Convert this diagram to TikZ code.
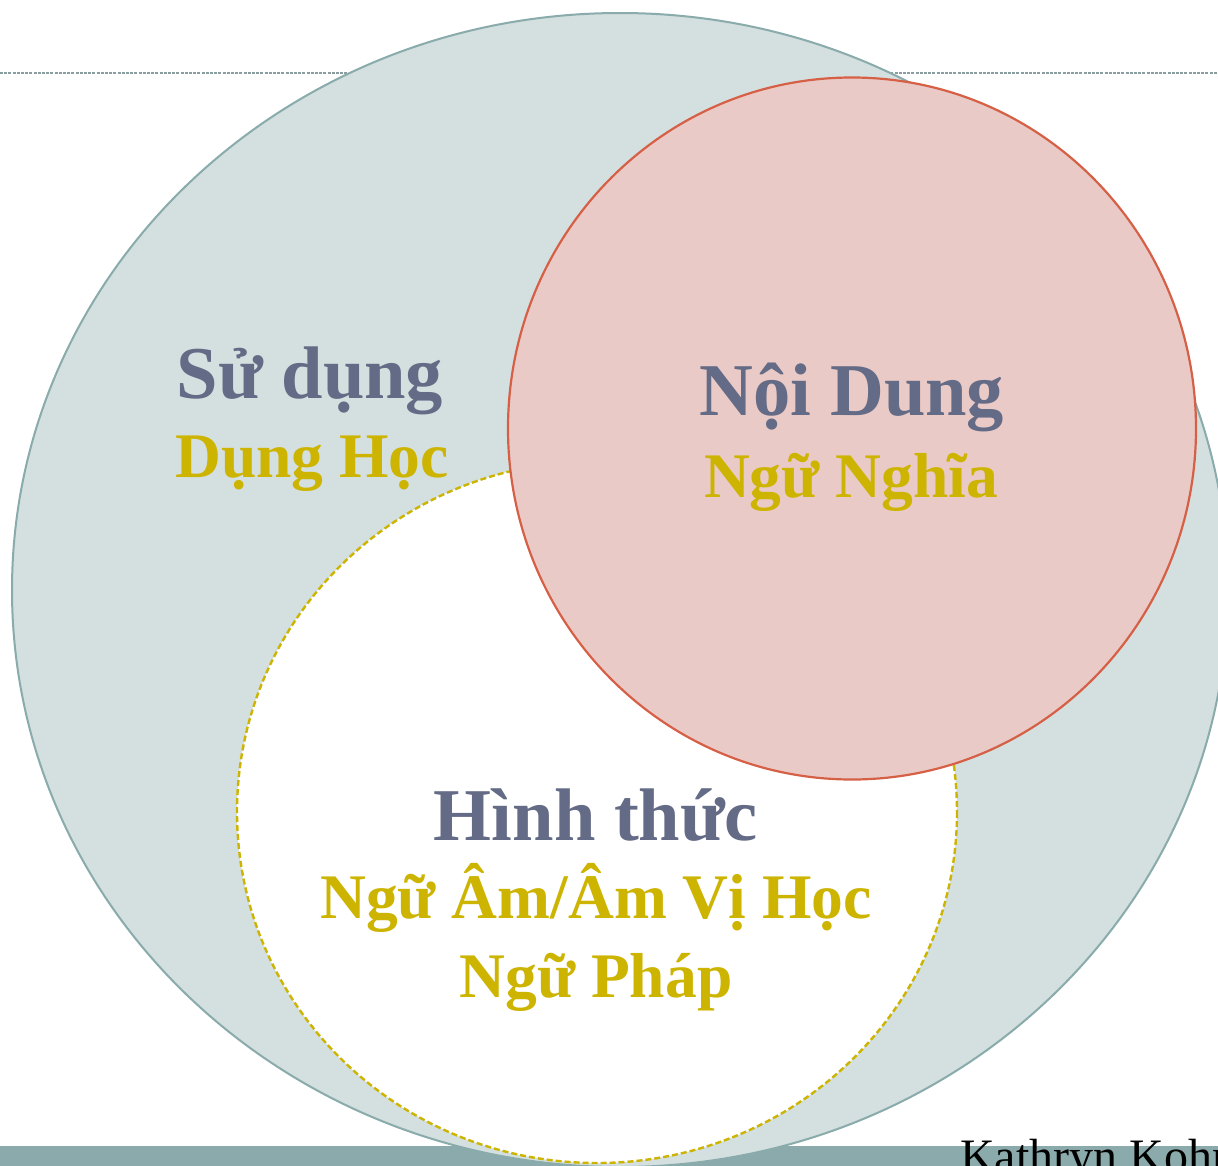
\documentclass[tikz,border=0pt]{standalone}
\usepackage{fontspec}
\setmainfont{Liberation Serif}
\definecolor{ellfill}{HTML}{D4DFDF}
\definecolor{ellline}{HTML}{8AABAB}
\definecolor{pinkfill}{HTML}{EACAC6}
\definecolor{pinkline}{HTML}{D66046}
\definecolor{goldc}{HTML}{CDB400}
\definecolor{slatec}{HTML}{646B86}
\definecolor{barc}{HTML}{8BAAAB}
\definecolor{rulec}{HTML}{8A9E9F}
\tikzset{
  bigtxt/.style={anchor=base, text=slatec, font=\bfseries\fontsize{74.5}{82}\selectfont, inner sep=0pt},
  subtxt/.style={anchor=base, text=goldc, font=\bfseries\fontsize{63.5}{72}\selectfont, inner sep=0pt},
}
\begin{document}
\begin{tikzpicture}[x=1pt,y=-1pt]
\clip (0,0) rectangle (1218,1165);
\fill[white] (0,0) rectangle (1218,1165);
% top dashed rule
\draw[rulec, line width=2pt, dash pattern=on 3pt off 1.2pt] (0,73) -- (1218,73);
% bottom bar
\fill[barc] (0,1146) rectangle (1218,1170);
% big ellipse (Su dung)
\draw[fill=ellfill, draw=ellline, line width=2pt] (620,590) ellipse [x radius=608, y radius=577];
% white dashed circle (Hinh thuc)
\draw[fill=white, draw=goldc, line width=2.4pt, dash pattern=on 6pt off 3pt] (597,812) ellipse [x radius=360, y radius=351];
% pink circle (Noi dung)
\draw[fill=pinkfill, draw=pinkline, line width=2.2pt] (852,428.5) ellipse [x radius=344, y radius=351];
% texts
\node[bigtxt] (sd) at (310,398) {Sử dụng};
\node[subtxt] (dh) at (312,477) {Dụng Học};
\node[bigtxt] (nd) at (852,415) {Nội Dung};
\node[subtxt] (nn) at (851,497) {Ngữ Nghĩa};
\node[bigtxt] (ht) at (596,840) {Hình thức};
\node[subtxt] (na) at (596,918) {Ngữ Âm/Âm Vị Học};
\node[subtxt] (np) at (596,997) {Ngữ Pháp};
\node[anchor=base west, inner sep=0pt, font=\fontsize{48}{56}\selectfont, text=black] (kk) at (960,1172) {Kathryn Kohn};
\end{tikzpicture}
\end{document}
